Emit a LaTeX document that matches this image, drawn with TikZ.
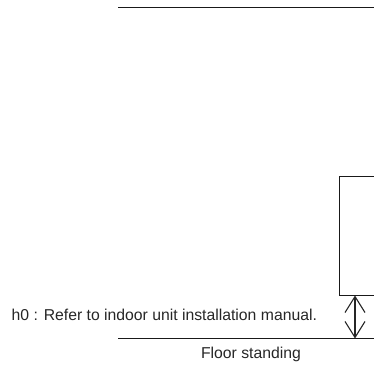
\documentclass[tikz,border=0pt]{standalone}
\usepackage{fontspec}
\setmainfont{Liberation Sans}
\usetikzlibrary{positioning, arrows.meta}
\tikzset{
  line/.style={draw=black!90, line width=1.5pt},
  dimline/.style={draw=black!85, line width=1.1pt, {Straight Barb[length=16pt,width=20pt,line width=1.1pt]}-{Straight Barb[length=16pt,width=20pt,line width=1.1pt]}},
  label/.style={inner sep=0pt, font=\fontsize{15.75}{18}\selectfont, text=black!85}
}
\begin{document}
\begin{tikzpicture}[x=1pt,y=-1pt]
            \useasboundingbox (0,0) rectangle (374,365);
            \coordinate (ceilingL) at (118,7.5);
            \coordinate (ceilingR) at (374,7.5);
            \coordinate (floorL) at (118,338.5);
            \coordinate (floorR) at (374,338.5);
            \coordinate (unitTR) at (374,176.5);
            \coordinate (unitTL) at (339.5,176.5);
            \coordinate (unitBL) at (339.5,295.5);
            \coordinate (unitBR) at (374,295.5);
            \coordinate (h0top) at (355,295.5);
            \coordinate (h0bot) at (355,338.5);
            \draw [line] (ceilingL) -- (ceilingR);
            \draw [line] (floorL) -- (floorR);
            \draw [line] (unitTR) -- (unitTL) -- (unitBL) -- (unitBR);
            \draw [dimline] (h0top) -- (h0bot);
            \node [label, anchor=base west] (h0note) at (11.5,320.5) {h0 : Refer to indoor unit installation manual.};
            \node [label, anchor=base] (floorname) at (251,358.5) {Floor standing};
\end{tikzpicture}
\end{document}
